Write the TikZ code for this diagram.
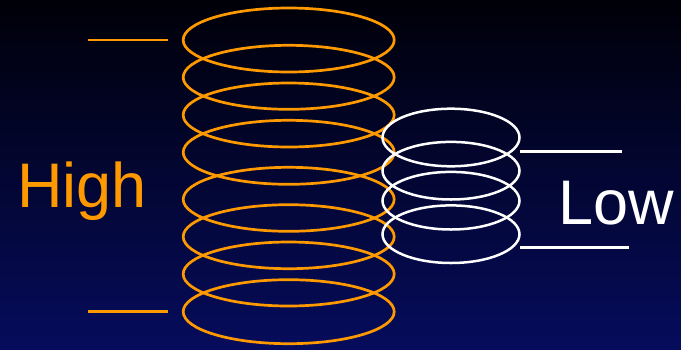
\documentclass[tikz,border=0pt]{standalone}
\usepackage{fontspec}
\setmainfont{Liberation Sans}
\definecolor{coilorange}{RGB}{255,153,0}
\definecolor{bgtop}{RGB}{0,0,8}
\definecolor{bgbottom}{RGB}{6,12,92}
\begin{document}
\begin{tikzpicture}[x=1pt,y=-1pt,
  hicoil/.style={draw=coilorange,line width=2.7pt},
  locoil/.style={draw=white,line width=2.5pt},
  hiline/.style={draw=coilorange,line width=2.8pt},
  loline/.style={draw=white,line width=2.6pt},
  lbl/.style={font=\fontsize{63}{63}\selectfont,inner sep=0pt,anchor=base west}]
\shade[top color=bgtop,bottom color=bgbottom] (0,0) rectangle (681,349);
\useasboundingbox (0,0) rectangle (681,349);
% orange (high) coil
\foreach \cy in {40,77.3,115,152.3,199.3,236.7,274,311.7}
  \draw[hicoil] (288.7,\cy) ellipse [x radius=105.5, y radius=32];
% white (low) coil
\foreach \cy in {137.5,170.7,200.7,234.2}
  \draw[locoil] (451,\cy) ellipse [x radius=68.5, y radius=28.8];
% lead lines
\coordinate (h1a) at (88,40);  \coordinate (h1b) at (168,40);
\coordinate (h2a) at (88,311.7); \coordinate (h2b) at (168,311.7);
\coordinate (l1a) at (520,151.7); \coordinate (l1b) at (622,151.7);
\coordinate (l2a) at (520,247.7); \coordinate (l2b) at (629,247.7);
\draw[hiline] (h1a) -- (h1b);
\draw[hiline] (h2a) -- (h2b);
\draw[loline] (l1a) -- (l1b);
\draw[loline] (l2a) -- (l2b);
% labels
\node[lbl,text=coilorange] (high) at (17,207.5) {High};
\node[lbl,text=white] (low) at (558,224) {Low};
\end{tikzpicture}
\end{document}
